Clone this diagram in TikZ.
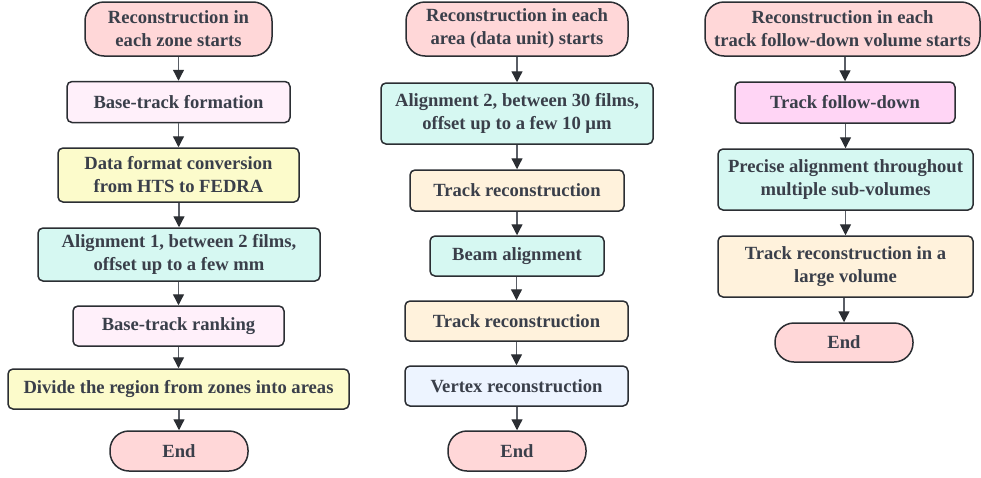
\documentclass[tikz,border=0pt]{standalone}
\usepackage{fontspec}
\setmainfont{Liberation Serif}
\usetikzlibrary{arrows.meta}
\definecolor{txt}{HTML}{3A3F4A}
\definecolor{bord}{HTML}{2B2E33}
\definecolor{cstart}{HTML}{FFD7D8}
\definecolor{cpink}{HTML}{FFF0FA}
\definecolor{cyel}{HTML}{FCFBCB}
\definecolor{ccyan}{HTML}{D6F8F2}
\definecolor{corange}{HTML}{FFF2DC}
\definecolor{cblue}{HTML}{EDF4FF}
\definecolor{cmag}{HTML}{FFD5F5}
\definecolor{arr}{HTML}{5A5E66}
\begin{document}
\begin{tikzpicture}[x=1pt,y=-1pt,
  box/.style={draw=bord,line width=1.5pt,rounded corners=5pt,inner sep=0pt,align=center,
    text=txt,font=\fontsize{18.6}{23}\selectfont\bfseries},
  pill/.style={box,fill=cstart,rounded corners=19pt},
  flow/.style={draw=arr,line width=1.3pt,-{Triangle[width=11pt,length=11pt,color=bord]}}]
\useasboundingbox (0,0) rectangle (981,477);
% column 1
\node[pill,minimum width=187pt,minimum height=54pt] (a0) at (178.5,29) {Reconstruction in\\each zone starts};
\node[box,fill=cpink,minimum width=223pt,minimum height=41pt] (a1) at (178.5,102) {Base-track formation};
\node[box,fill=cyel,minimum width=241pt,minimum height=54pt] (a2) at (178.5,175) {Data format conversion\\from HTS to FEDRA};
\node[box,fill=ccyan,minimum width=282pt,minimum height=53pt] (a3) at (179,254.5) {Alignment 1, between 2 films,\\offset up to a few mm};
\node[box,fill=cpink,minimum width=211pt,minimum height=40pt] (a4) at (178.5,326) {Base-track ranking};
\node[box,fill=cyel,minimum width=341pt,minimum height=40pt] (a5) at (178.5,389) {Divide the region from zones into areas};
\node[pill,minimum width=138pt,minimum height=40pt] (a6) at (179,451) {End};
% column 2
\node[pill,minimum width=222pt,minimum height=54pt] (b0) at (517,29) {Reconstruction in each\\area (data unit) starts};
\node[box,fill=ccyan,minimum width=272pt,minimum height=61pt] (b1) at (517,113.5) {Alignment 2, between 30 films,\\offset up to a few 10 µm};
\node[box,fill=corange,minimum width=214pt,minimum height=41pt] (b2) at (517,190.5) {Track reconstruction};
\node[box,fill=ccyan,minimum width=174pt,minimum height=40pt] (b3) at (517,256) {Beam alignment};
\node[box,fill=corange,minimum width=223pt,minimum height=40pt] (b4) at (516.5,321) {Track reconstruction};
\node[box,fill=cblue,minimum width=223pt,minimum height=40pt] (b5) at (516.5,386) {Vertex reconstruction};
\node[pill,minimum width=138pt,minimum height=40pt] (b6) at (517,451) {End};
% column 3
\node[pill,minimum width=275pt,minimum height=54pt] (c0) at (842.5,29) {Reconstruction in each\\track follow-down volume starts};
\node[box,fill=cmag,minimum width=220pt,minimum height=41pt] (c1) at (845,102.5) {Track follow-down};
\node[box,fill=ccyan,minimum width=255pt,minimum height=61pt] (c2) at (845.5,179.5) {Precise alignment throughout\\multiple sub-volumes};
\node[box,fill=corange,minimum width=255pt,minimum height=61pt] (c3) at (845.5,266.5) {Track reconstruction in a\\large volume};
\node[pill,minimum width=138pt,minimum height=39pt] (c4) at (844,342.5) {End};
% arrows
\foreach \p/\q in {a0/a1,a1/a2,a2/a3,a3/a4,a4/a5,a5/a6,b0/b1,b1/b2,b2/b3,b3/b4,b4/b5,b5/b6,c0/c1,c1/c2,c2/c3,c3/c4}
  \draw[flow] (\p.south -| a0.center -| \q.north) -- (\q.north);
\end{tikzpicture}
\end{document}
